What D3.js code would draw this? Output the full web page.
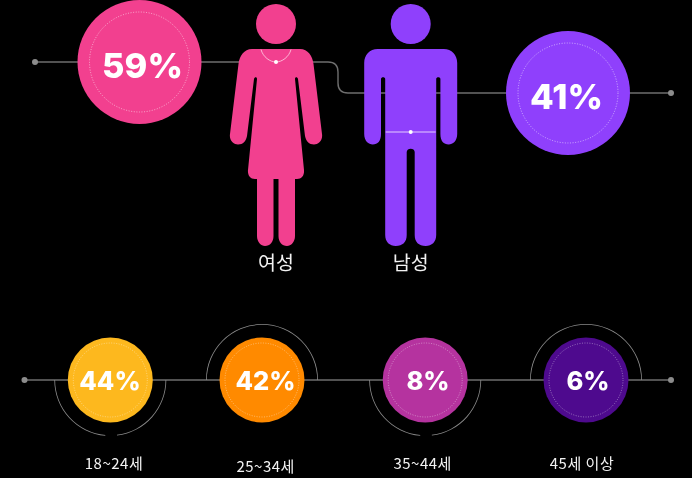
<!DOCTYPE html>
<html>
<head>
<meta charset="utf-8">
<script src="https://cdn.jsdelivr.net/npm/d3@7"></script>
<style>
  html, body { margin: 0; padding: 0; background: #000; overflow: hidden; }
  svg { display: block; filter: blur(0.5px); }
  .pct { font-family: Inter, sans-serif; font-weight: 800; fill: #fff; text-anchor: middle; }
  .name { font-family: "Noto Sans CJK KR", sans-serif; fill: #f2f2f2; text-anchor: middle; }
</style>
</head>
<body>
<div id="container"></div>
<script>
let genders = ["여성", "남성"];
let genderShare = [59, 41];
let genderColors = ["#f2408f", "#8f40fc"];

let ages = ["18~24세", "25~34세", "35~44세", "45세 이상"];
let ageShare = [44, 42, 8, 6];
let ageColors = ["#fdb81e", "#ff8a00", "#b5339f", "#4e0a8e"];

let width = 692, height = 478;

let svg = d3.select('#container')
            .append('svg')
            .attr("width", width)
            .attr("height", height);

let lineColor = "#6e6e6e";

// scales for where each group sits
let genderX = d3.scaleOrdinal().domain(genders).range([139.5, 568]);
let genderY = d3.scaleOrdinal().domain(genders).range([62, 93]);
let genderTextX = d3.scaleOrdinal().domain(genders).range([142.5, 566.5]);
let figureX = d3.scaleOrdinal().domain(genders).range([276, 410.7]);
let ageX = d3.scaleOrdinal().domain(ages).range([110.3, 262, 425.2, 586]);
let ageTextX = d3.scaleOrdinal().domain(ages).range([110, 265.5, 428, 588]);
let labelX = d3.scaleOrdinal().domain(ages).range([114, 265.7, 422.7, 582]);
let labelY = d3.scaleOrdinal().domain(ages).range([469, 472, 469, 469]);
let ageY = 380;

//Connecting lines
let stepLine = d3.path();
stepLine.moveTo(35, 62);
stepLine.lineTo(328, 62);
stepLine.bezierCurveTo(335, 62, 338, 65, 338, 72);
stepLine.lineTo(338, 83);
stepLine.bezierCurveTo(338, 90, 341, 93, 348, 93);
stepLine.lineTo(671, 93);
svg.append('path')
    .attr('d', stepLine.toString())
    .attr('fill', 'none')
    .attr('stroke', lineColor)
    .attr('stroke-width', 1.4);

svg.append('line')
    .attr('x1', 24).attr('x2', 671)
    .attr('y1', ageY).attr('y2', ageY)
    .attr('stroke', lineColor)
    .attr('stroke-width', 1.4);

//End dots
let ends = [[35, 62], [671, 93], [24.5, ageY], [671, ageY]];
svg.selectAll('circle.end')
    .data(ends)
    .enter()
    .append('circle')
    .attr('class', 'end')
    .attr('cx', d => d[0])
    .attr('cy', d => d[1])
    .attr('r', 3)
    .attr('fill', '#8c8c8c');

//Half rings round the age circles, below then above in turn
let halfRing = d3.arc().innerRadius(55.2).outerRadius(56);
ages.forEach((d, i) => {
    let spans = i % 2 == 0
        ? [[Math.PI / 2, Math.PI - 0.12], [Math.PI + 0.09, Math.PI * 1.5]]
        : [[-Math.PI / 2, Math.PI / 2]];
    spans.forEach(s => {
        svg.append('path')
            .attr('class', 'ring')
            .attr('transform', `translate(${ageX(d)},${ageY})`)
            .attr('d', halfRing({startAngle: s[0], endAngle: s[1]}))
            .attr('fill', '#8a8a8a');
    });
});

//People
function drawWoman(g, c) {
    let p = d3.path();
    let x = v => c + v;
    p.moveTo(x(-24), 49);
    p.lineTo(x(24), 49);
    p.bezierCurveTo(x(32), 49, x(36.5), 56, x(37.5), 64);
    p.lineTo(x(46), 134);
    p.bezierCurveTo(x(47), 141, x(42), 144.5, x(38), 144.5);
    p.bezierCurveTo(x(33), 144.5, x(30), 141, x(29), 136);
    p.lineTo(x(22), 79);
    p.bezierCurveTo(x(21.5), 76.5, x(19), 76.5, x(19), 79);
    p.lineTo(x(28), 170);
    p.bezierCurveTo(x(28.5), 175, x(26), 179, x(21), 179);
    p.lineTo(x(19), 179);
    p.lineTo(x(19), 236);
    p.bezierCurveTo(x(19), 242, x(15), 246, x(11), 246);
    p.bezierCurveTo(x(6), 246, x(2.5), 242, x(2.5), 236);
    p.lineTo(x(2.5), 179);
    p.lineTo(x(-2.5), 179);
    p.lineTo(x(-2.5), 236);
    p.bezierCurveTo(x(-2.5), 242, x(-6), 246, x(-11), 246);
    p.bezierCurveTo(x(-15), 246, x(-19), 242, x(-19), 236);
    p.lineTo(x(-19), 179);
    p.lineTo(x(-21), 179);
    p.bezierCurveTo(x(-26), 179, x(-28.5), 175, x(-28), 170);
    p.lineTo(x(-19), 79);
    p.bezierCurveTo(x(-19), 76.5, x(-21.5), 76.5, x(-22), 79);
    p.lineTo(x(-29), 136);
    p.bezierCurveTo(x(-30), 141, x(-33), 144.5, x(-38), 144.5);
    p.bezierCurveTo(x(-42), 144.5, x(-47), 141, x(-46), 134);
    p.lineTo(x(-37.5), 64);
    p.bezierCurveTo(x(-36.5), 56, x(-32), 49, x(-24), 49);
    p.closePath();
    g.append('path').attr('d', p.toString());

    // necklace
    let n = d3.path();
    n.moveTo(x(-15), 49.5);
    n.bezierCurveTo(x(-13), 57, x(-6), 62, x(0), 62);
    n.bezierCurveTo(x(6), 62, x(13), 57, x(15), 49.5);
    g.append('path').attr('d', n.toString())
        .attr('fill', 'none').attr('stroke', '#ffd3e6').attr('stroke-width', 0.8);
    g.append('circle').attr('cx', c).attr('cy', 62).attr('r', 2).attr('fill', '#fff');
}

function drawMan(g, c) {
    let p = d3.path();
    let x = v => c + v;
    p.moveTo(x(-33), 49);
    p.lineTo(x(33), 49);
    p.bezierCurveTo(x(41), 49, x(46.5), 55, x(46.5), 63);
    p.lineTo(x(46.5), 134);
    p.bezierCurveTo(x(46.5), 141, x(42), 144.5, x(38), 144.5);
    p.bezierCurveTo(x(33), 144.5, x(29.7), 141, x(29.7), 134);
    p.lineTo(x(29.7), 79);
    p.bezierCurveTo(x(29.7), 76.5, x(25.5), 76.5, x(25.5), 79);
    p.lineTo(x(25.5), 235);
    p.bezierCurveTo(x(25.5), 242, x(21), 246, x(15), 246);
    p.bezierCurveTo(x(8), 246, x(4), 242, x(4), 235);
    p.lineTo(x(4), 152);
    p.bezierCurveTo(x(4), 147.5, x(-4), 147.5, x(-4), 152);
    p.lineTo(x(-4), 235);
    p.bezierCurveTo(x(-4), 242, x(-8), 246, x(-15), 246);
    p.bezierCurveTo(x(-21), 246, x(-25.5), 242, x(-25.5), 235);
    p.lineTo(x(-25.5), 79);
    p.bezierCurveTo(x(-25.5), 76.5, x(-29.7), 76.5, x(-29.7), 79);
    p.lineTo(x(-29.7), 134);
    p.bezierCurveTo(x(-29.7), 141, x(-33), 144.5, x(-38), 144.5);
    p.bezierCurveTo(x(-42), 144.5, x(-46.5), 141, x(-46.5), 134);
    p.lineTo(x(-46.5), 63);
    p.bezierCurveTo(x(-46.5), 55, x(-41), 49, x(-33), 49);
    p.closePath();
    g.append('path').attr('d', p.toString());

    // belt
    g.append('line')
        .attr('x1', c - 25).attr('x2', c + 25)
        .attr('y1', 132).attr('y2', 132)
        .attr('stroke', '#e3ccff').attr('stroke-width', 1);
    g.append('circle').attr('cx', c).attr('cy', 132).attr('r', 2).attr('fill', '#fff');
}

genders.forEach((d, i) => {
    let g = svg.append('g').attr('fill', genderColors[i]);
    g.append('circle').attr('cx', figureX(d)).attr('cy', 24).attr('r', 20);
    if (i == 0) drawWoman(g, figureX(d));
    else drawMan(g, figureX(d));
});

//Gender bubbles
svg.selectAll('circle.gender')
    .data(genders)
    .enter()
    .append('circle')
    .attr('class', 'gender')
    .attr('cx', d => genderX(d))
    .attr('cy', d => genderY(d))
    .attr('r', 62)
    .attr('fill', (d, i) => genderColors[i]);

svg.selectAll('circle.genderDots')
    .data(genders)
    .enter()
    .append('circle')
    .attr('class', 'genderDots')
    .attr('cx', d => genderX(d))
    .attr('cy', d => genderY(d))
    .attr('r', 50)
    .attr('fill', 'none')
    .attr('stroke', '#fff')
    .attr('stroke-opacity', 0.6)
    .attr('stroke-width', 0.9)
    .attr('stroke-dasharray', '1 1.6');

svg.selectAll('text.genderPct')
    .data(genders)
    .enter()
    .append('text')
    .attr('class', 'pct genderPct')
    .attr('x', d => genderTextX(d))
    .attr('y', d => genderY(d) + 16)
    .attr('font-size', 34.5)
    .text((d, i) => genderShare[i] + "%");

svg.selectAll('text.genderName')
    .data(genders)
    .enter()
    .append('text')
    .attr('class', 'name genderName')
    .attr('x', d => figureX(d))
    .attr('y', 270)
    .attr('font-size', 19.5)
    .text(d => d);

//Age bubbles
svg.selectAll('circle.age')
    .data(ages)
    .enter()
    .append('circle')
    .attr('class', 'age')
    .attr('cx', d => ageX(d))
    .attr('cy', ageY)
    .attr('r', 42.5)
    .attr('fill', (d, i) => ageColors[i]);

svg.selectAll('circle.ageDots')
    .data(ages)
    .enter()
    .append('circle')
    .attr('class', 'ageDots')
    .attr('cx', d => ageX(d))
    .attr('cy', ageY)
    .attr('r', 37)
    .attr('fill', 'none')
    .attr('stroke', '#fff')
    .attr('stroke-opacity', 0.5)
    .attr('stroke-width', 0.8)
    .attr('stroke-dasharray', '1 1.5');

svg.selectAll('text.agePct')
    .data(ages)
    .enter()
    .append('text')
    .attr('class', 'pct agePct')
    .attr('x', d => ageTextX(d))
    .attr('y', ageY + 10)
    .attr('font-size', 25.5)
    .text((d, i) => ageShare[i] + "%");

svg.selectAll('text.ageName')
    .data(ages)
    .enter()
    .append('text')
    .attr('class', 'name ageName')
    .attr('x', d => labelX(d))
    .attr('y', d => labelY(d))
    .attr('font-size', 15)
    .attr('letter-spacing', 0.5)
    .text(d => d);
</script>
</body>
</html>
